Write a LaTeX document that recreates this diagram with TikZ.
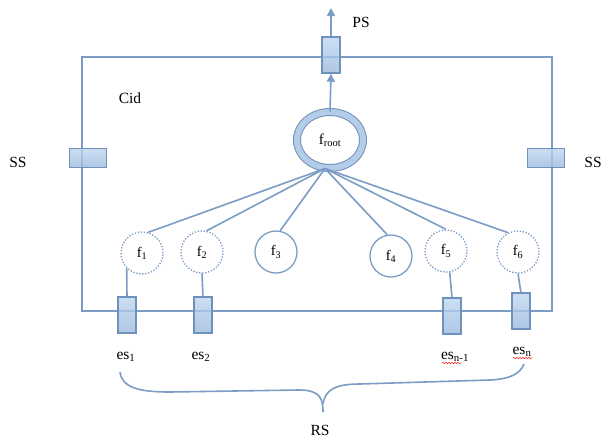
\documentclass[tikz,border=0pt]{standalone}
\usepackage{fontspec}
\setmainfont{Liberation Serif}
\usetikzlibrary{shapes.geometric,arrows.meta,decorations.pathmorphing}
\definecolor{ln}{HTML}{7B9CC4}
\definecolor{bd}{HTML}{6F91BD}
\definecolor{ftop}{HTML}{BFD6F0}
\definecolor{fbot}{HTML}{9BB8DD}
\definecolor{ringc}{HTML}{B5CCE8}
\begin{document}
\begin{tikzpicture}[x=1pt,y=-1pt,
  conn/.style={draw=ln, line width=1.6pt},
  arr/.style={conn, -{Triangle[width=8pt,length=8pt]}},
  boxv/.style={rectangle, draw=bd, line width=1.5pt, top color=ftop, bottom color=fbot, fill opacity=0.8, minimum width=18pt, minimum height=36pt, inner sep=0pt},
  boxh/.style={boxv, minimum width=37pt, minimum height=19pt},
  fc/.style={circle, draw=ln, line width=1.3pt, minimum size=42pt, inner sep=0pt, font=\fontsize{14.5}{16}\selectfont},
  fd/.style={fc, dash pattern=on 1.3pt off 1.7pt},
  lab/.style={font=\fontsize{15.5}{18}\selectfont, inner sep=0pt},
  wavy/.style={draw=red!80!white, line width=0.6pt, decorate, decoration={snake, amplitude=0.8pt, segment length=3pt}}
]
\useasboundingbox (0,0) rectangle (602,440);
% frame
\draw[conn] (82,57) rectangle (552,311);
% root
\node[ellipse, draw=bd, double=ringc, double distance=6pt, line width=1pt, minimum width=66pt, minimum height=56pt, inner sep=0pt, font=\fontsize{15}{16}\selectfont] (froot) at (330,140) {f\textsubscript{root}};
\coordinate (hub) at ([xshift=-5pt]froot.south);
% leaf circles
\node[fd] (f1) at (142,253) {f\textsubscript{1}};
\node[fd] (f2) at (202,252) {f\textsubscript{2}};
\node[fc] (f3) at (276,252) {f\textsubscript{3}};
\node[fc] (f4) at (391,256) {f\textsubscript{4}};
\node[fd] (f5) at (446,251) {f\textsubscript{5}};
\node[fd] (f6) at (518,252) {f\textsubscript{6}};
% fan
\draw[conn] (hub) -- (f1.73);
\draw[conn] (hub) -- (f2.78);
\draw[conn] (hub) -- (f3.79);
\draw[conn] (hub) -- (f4.100);
\draw[conn] (hub) -- (f5.90);
\draw[conn] (hub) -- (f6.117);
% boxes
\node[boxv] (ps) at (331,55) {};
\node[boxh] (ssl) at (88,158) {};
\node[boxh] (ssr) at (546,158) {};
\coordinate (e1top) at (127,297);
\draw[conn] (f1.-135) -- (e1top);
\draw[conn] (f2.south) -- (203,297);
\draw[conn] (f5.-80) -- (452,298);
\draw[conn] (f6.south) -- (521,293);
\node[boxv] (es1) at (127,315) {};
\node[boxv] (es2) at (203,315) {};
\node[boxv] (esn1) at (452,316) {};
\node[boxv] (esn) at (521,311) {};
% arrows
\coordinate (pstip) at (331,8);
\draw[arr] (ps.north) -- (pstip);
\draw[arr] (froot.north) -- (ps.south);
% labels
\node[lab] (lps) at (361,22) {PS};
\node[lab] (lssl) at (18,162) {SS};
\node[lab] (lssr) at (593,162) {SS};
\node[lab] (cid) at (130,98) {Cid};
\node[lab, anchor=base] (les1) at (126,359) {es\textsubscript{1}};
\node[lab, anchor=base] (les2) at (201,359) {es\textsubscript{2}};
\node[lab, anchor=base] (lesn1) at (455,359) {es\textsubscript{n-1}};
\node[lab, anchor=base] (lesn) at (522,354) {es\textsubscript{n}};
\draw[wavy] (442,363) -- (461,363);
\draw[wavy] (513,358) -- (532,358);
% brace
\coordinate (bl) at (120,372);
\coordinate (btip) at (323,412);
\coordinate (br) at (524,364);
\draw[conn] (bl) .. controls (122,388) and (140,392) .. (170,392)
  -- (298,390) .. controls (318,390) and (323,396) .. (btip);
\draw[conn] (323,404) .. controls (325,390) and (335,384) .. (360,384)
  -- (490,380) .. controls (510,379) and (520,374) .. (br);
\node[lab] (rs) at (320,430) {RS};
\end{tikzpicture}
\end{document}
